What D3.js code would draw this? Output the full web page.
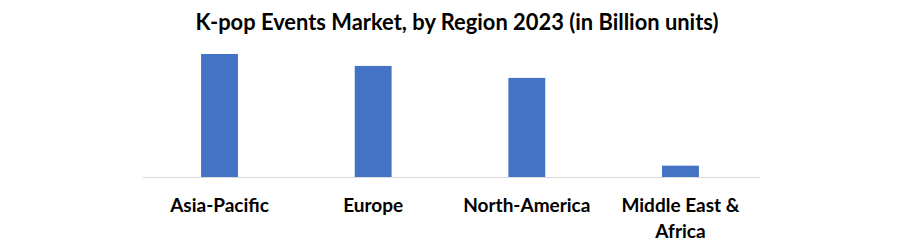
<!DOCTYPE html>
<html><head><meta charset="utf-8">
<script src="https://cdn.jsdelivr.net/npm/d3@7"></script>
<style>body{margin:0;background:#fff}</style>
</head><body>
<svg id="c" width="902" height="246"></svg>
<script>
const categories = ["Asia-Pacific", "Europe", "North-America", "Middle East & Africa"];
const labelLines = [["Asia-Pacific"], ["Europe"], ["North-America"], ["Middle East &", "Africa"]];
const values = [10.3, 9.3, 8.3, 0.95];

const svg = d3.select("#c");
const font = "Lato, 'Open Sans', sans-serif";
const x = d3.scaleBand().domain(categories).range([142.7, 757.3]).paddingInner(0.76).paddingOuter(0.38);
const y = d3.scaleLinear().domain([0, 10.3]).range([177, 54]);

svg.append("text").attr("x", 457).attr("y", 30).attr("text-anchor", "middle")
  .attr("font-family", font).attr("font-weight", "bold").attr("font-size", 21.9)
  .attr("fill", "#000").text("K-pop Events Market, by Region 2023 (in Billion units)");

svg.append("g").selectAll("rect").data(values).join("rect")
  .attr("x", (d, i) => x(categories[i])).attr("width", x.bandwidth())
  .attr("y", d => y(d)).attr("height", d => y(0) - y(d)).attr("fill", "#4472C4");

svg.append("line").attr("x1", 142.7).attr("x2", 760).attr("y1", 177.5).attr("y2", 177.5)
  .attr("stroke", "#d9d9d9").attr("stroke-width", 1);

const lab = svg.append("g").selectAll("text").data(categories).join("text")
  .attr("text-anchor", "middle").attr("font-family", font).attr("font-weight", "bold")
  .attr("font-size", 19).attr("fill", "#000")
  .attr("x", d => x(d) + x.bandwidth() / 2).attr("y", 212);
lab.each(function(d, i) {
  const t = d3.select(this);
  labelLines[i].forEach((l, j) => {
    t.append("tspan").attr("x", x(d) + x.bandwidth() / 2).attr("dy", j === 0 ? 0 : 26).text(l);
  });
});
</script>
</body></html>
